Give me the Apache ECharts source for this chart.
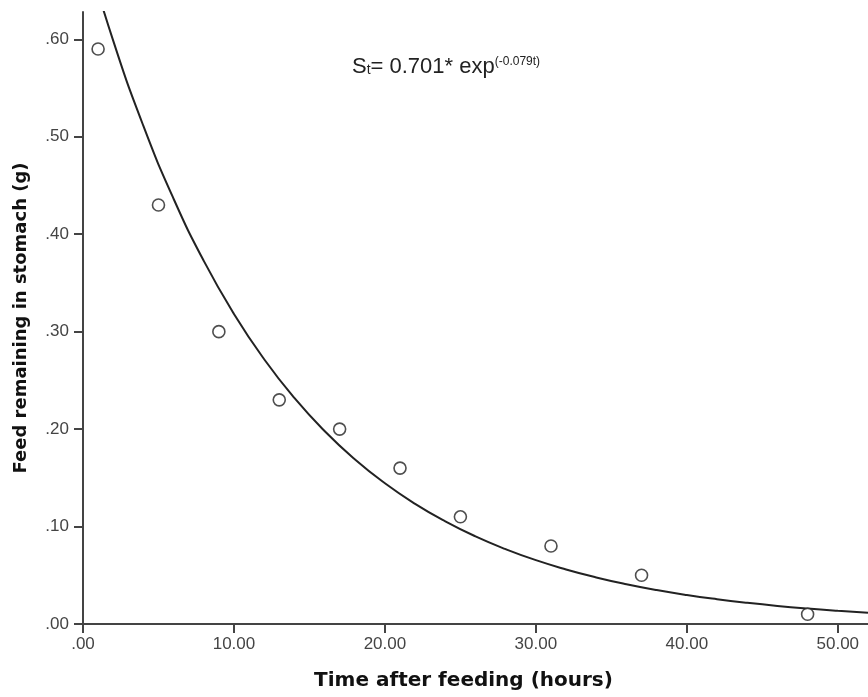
<!DOCTYPE html>
<html>
<head>
<meta charset="utf-8">
<script src="https://cdn.jsdelivr.net/npm/echarts@6/dist/echarts.min.js"></script>
<style>
html,body{margin:0;padding:0;background:#fff;}
#chart{width:868px;height:697px;}
</style>
</head>
<body>
<div id="chart"></div>
<script>
// Observed data points (time in hours, feed remaining in g)
var obsTime = [1, 5, 9, 13, 17, 21, 25, 31, 37, 48];
var obsFeed = [0.59, 0.43, 0.30, 0.23, 0.20, 0.16, 0.11, 0.08, 0.05, 0.01];

// Fitted curve (St = 0.701*exp(-0.079t))
var curveTime = [0, 2, 4, 6, 8, 10, 12, 14, 16, 18, 20, 22, 24, 26, 28, 30, 32, 34, 36, 38, 40, 42, 44, 46, 48, 50, 52];
var curveFeed = [0.701, 0.5986, 0.5111, 0.4364, 0.3726, 0.3182, 0.2717, 0.2320, 0.1981, 0.1691, 0.1444, 0.1233, 0.1053, 0.0899, 0.0768, 0.0655, 0.0560, 0.0478, 0.0408, 0.0348, 0.0297, 0.0254, 0.0217, 0.0185, 0.0158, 0.0135, 0.0115];

var xTitle = 'Time after feeding (hours)';
var yTitle = 'Feed remaining in stomach (g)';

function fmt(v) {
  var s = v.toFixed(2);
  if (s.charAt(0) === '0') s = s.substring(1);
  return s;
}

var chart = echarts.init(document.getElementById('chart'), null, {renderer: 'canvas'});
var axisLine = {show: true, lineStyle: {color: '#444', width: 2}};
var tick = {show: true, length: 9, lineStyle: {color: '#444', width: 2}};
var lbl = {color: '#444', fontSize: 17, fontFamily: 'Liberation Sans, Arial'};
chart.setOption({
  animation: false,
  backgroundColor: '#fff',
  grid: {left: 83, right: 0, top: 12, bottom: 73, containLabel: false, outerBoundsMode: 'none'},
  xAxis: {
    type: 'value', min: 0, max: 52, interval: 10,
    axisLine: axisLine, axisTick: tick,
    splitLine: {show: false},
    axisLabel: Object.assign({formatter: fmt, margin: 12}, lbl),
    name: xTitle, nameLocation: 'middle', nameGap: 47,
    nameTextStyle: {fontSize: 20, fontWeight: 'bold', color: '#111', fontFamily: 'DejaVu Sans', padding: [0, 24, 0, 0]}
  },
  yAxis: {
    type: 'value', min: 0, max: 0.628, interval: 0.1,
    axisLine: axisLine, axisTick: tick,
    splitLine: {show: false},
    axisLabel: Object.assign({formatter: fmt, margin: 14, showMaxLabel: false}, lbl),
    name: yTitle, nameLocation: 'middle', nameGap: 53,
    nameTextStyle: {fontSize: 18, fontWeight: 'bold', color: '#111', fontFamily: 'DejaVu Sans'}
  },
  graphic: [{
    type: 'text', left: 352, top: 53,
    style: {
      text: '{m|S}{sub|t}{m|= 0.701* exp}{sup|(-0.079t)}',
      rich: {
        m: {fontSize: 22, fontFamily: 'Liberation Sans, Arial', fill: '#222', lineHeight: 28, verticalAlign: 'middle'},
        sub: {fontSize: 14, fontFamily: 'Liberation Sans, Arial', fill: '#222', lineHeight: 28, verticalAlign: 'bottom', padding: [0,0,4,0]},
        sup: {fontSize: 12, fontFamily: 'Liberation Sans, Arial', fill: '#222', lineHeight: 28, verticalAlign: 'top', padding: [3,0,0,0]}
      }
    }
  }],
  series: [{
    type: 'line',
    data: curveTime.map(function (t, i) { return [t, curveFeed[i]]; }),
    smooth: true, showSymbol: false, symbol: 'none', clip: true,
    lineStyle: {color: '#222', width: 2},
    z: 2
  }, {
    type: 'scatter',
    data: obsTime.map(function (t, i) { return [t, obsFeed[i]]; }),
    symbol: 'circle', symbolSize: 12,
    itemStyle: {color: '#fff', borderColor: '#222', borderWidth: 1.6},
    z: 3
  }]
});
</script>
</body>
</html>
